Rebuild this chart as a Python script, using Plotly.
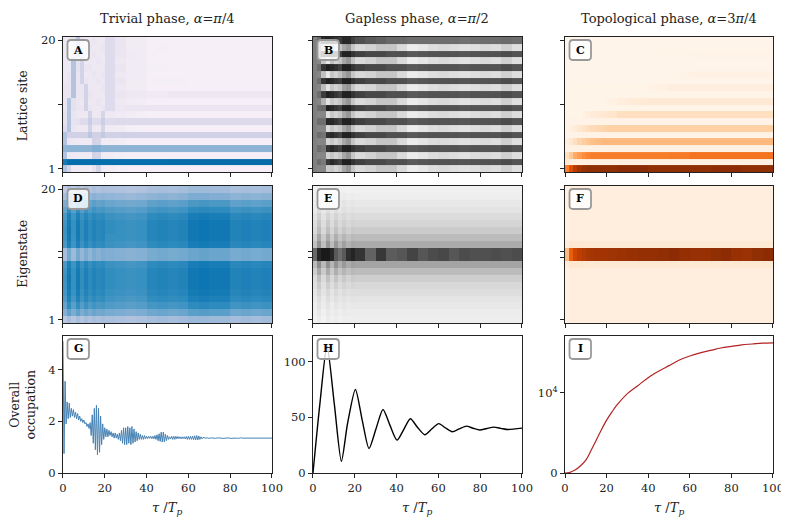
import plotly.graph_objects as go
from plotly.subplots import make_subplots
import plotly.colors as pc

# time bins (edges) used by every heatmap, in units of T_p
T_EDGES = [0, 2, 4, 6, 8, 10, 12, 14, 16, 18, 20, 25, 30, 35, 40, 45, 50, 55, 60,
           65, 70, 75, 80, 85, 90, 95, 100]
SITES = list(range(1, 21))

# heatmap levels, rows typed from site 20 (top) down to site 1 (bottom)
A_ROWS = [
    [0.5, 0.5, 0.9, 2.6, 0.8, 0.5, 0.5, 0.7, 0.5, 0.5, 1.2, 0.7, 0.3, 0.3, 0.0, 0.0, 0.0, 0.0, 0.0, 0.0, 0.0, 0.0, 0.0, 0.0, 0.0, 0.0],
    [0.5, 0.5, 0.9, 2.6, 0.9, 0.5, 0.7, 0.5, 0.5, 0.7, 1.2, 0.7, 0.3, 0.3, 0.0, 0.1, 0.0, 0.0, 0.0, 0.0, 0.0, 0.0, 0.0, 0.0, 0.0, 0.0],
    [0.5, 0.5, 1.2, 2.6, 0.9, 0.5, 0.5, 0.7, 0.5, 0.5, 1.2, 0.7, 0.4, 0.3, 0.1, 0.0, 0.0, 0.0, 0.0, 0.0, 0.0, 0.0, 0.0, 0.0, 0.0, 0.0],
    [0.5, 0.5, 2.6, 0.9, 1.7, 0.5, 0.5, 0.5, 0.7, 0.5, 1.2, 0.5, 0.3, 0.3, 0.0, 0.0, 0.0, 0.0, 0.0, 0.0, 0.0, 0.0, 0.0, 0.0, 0.0, 0.0],
    [0.5, 0.5, 2.6, 0.9, 1.7, 0.7, 0.7, 0.5, 0.5, 0.5, 1.2, 0.7, 0.3, 0.3, 0.1, 0.1, 0.0, 0.0, 0.0, 0.0, 0.0, 0.0, 0.0, 0.0, 0.0, 0.0],
    [0.5, 0.7, 2.6, 0.7, 1.7, 0.5, 0.5, 0.7, 0.5, 0.7, 1.2, 0.5, 0.4, 0.3, 0.0, 0.0, 0.0, 0.0, 0.0, 0.0, 0.0, 0.0, 0.0, 0.0, 0.0, 0.0],
    [0.5, 0.7, 2.6, 0.7, 1.7, 0.7, 0.5, 0.5, 0.7, 0.5, 1.2, 0.7, 0.3, 0.3, 0.1, 0.1, 0.1, 0.1, 0.0, 0.0, 0.0, 0.0, 0.0, 0.0, 0.0, 0.0],
    [0.7, 0.7, 2.6, 0.7, 0.7, 1.7, 0.5, 0.5, 0.5, 0.7, 1.2, 0.5, 0.3, 0.3, 0.0, 0.0, 0.0, 0.0, 0.0, 0.0, 0.0, 0.0, 0.0, 0.0, 0.0, 0.0],
    [0.7, 0.7, 2.6, 0.7, 0.7, 1.7, 0.7, 0.5, 0.5, 0.5, 1.2, 0.7, 0.5, 0.5, 0.4, 0.4, 0.5, 0.5, 0.5, 0.5, 0.5, 0.5, 0.5, 0.5, 0.5, 0.5],
    [0.7, 2.6, 0.9, 0.7, 0.5, 1.7, 0.5, 0.5, 0.7, 0.5, 1.2, 0.5, 0.3, 0.2, 0.0, 0.0, 0.0, 0.0, 0.0, 0.0, 0.0, 0.0, 0.0, 0.0, 0.0, 0.0],
    [0.7, 2.6, 0.9, 0.7, 0.7, 1.7, 0.7, 0.5, 0.5, 0.7, 1.2, 0.6, 0.7, 0.7, 0.7, 0.7, 0.7, 0.7, 0.7, 0.7, 0.7, 0.7, 0.7, 0.7, 0.7, 0.7],
    [0.9, 2.6, 0.7, 0.5, 0.5, 0.5, 1.7, 0.5, 0.5, 1.6, 0.5, 0.4, 0.2, 0.1, 0.0, 0.0, 0.0, 0.0, 0.0, 0.0, 0.0, 0.0, 0.0, 0.0, 0.0, 0.0],
    [0.9, 2.6, 0.8, 0.9, 1.2, 1.2, 2.0, 1.2, 1.2, 1.9, 1.2, 1.3, 1.3, 1.3, 1.3, 1.3, 1.3, 1.3, 1.3, 1.3, 1.3, 1.3, 1.3, 1.3, 1.3, 1.3],
    [1.2, 2.6, 0.7, 0.5, 0.5, 0.5, 1.7, 0.5, 0.4, 1.6, 0.4, 0.3, 0.1, 0.0, 0.0, 0.0, 0.0, 0.0, 0.0, 0.0, 0.0, 0.0, 0.0, 0.0, 0.0, 0.0],
    [2.6, 1.8, 1.8, 1.8, 1.8, 1.8, 2.4, 1.8, 1.8, 2.2, 1.8, 1.8, 1.8, 1.8, 1.8, 1.8, 1.8, 1.8, 1.8, 1.8, 1.8, 1.8, 1.8, 1.8, 1.8, 1.8],
    [2.6, 0.7, 0.5, 0.4, 0.4, 0.4, 0.4, 1.7, 1.6, 0.4, 0.3, 0.2, 0.0, 0.0, 0.0, 0.0, 0.0, 0.0, 0.0, 0.0, 0.0, 0.0, 0.0, 0.0, 0.0, 0.0],
    [3.5, 3.6, 3.6, 3.6, 3.6, 3.6, 3.6, 3.9, 3.9, 3.6, 3.6, 3.6, 3.6, 3.6, 3.6, 3.6, 3.6, 3.6, 3.6, 3.6, 3.6, 3.6, 3.6, 3.6, 3.6, 3.6],
    [2.6, 0.5, 0.4, 0.3, 0.3, 0.3, 0.3, 1.7, 1.6, 0.3, 0.2, 0.1, 0.0, 0.0, 0.0, 0.0, 0.0, 0.0, 0.0, 0.0, 0.0, 0.0, 0.0, 0.0, 0.0, 0.0],
    [6.2, 6.7, 6.7, 6.7, 6.7, 6.7, 6.7, 6.7, 6.7, 6.7, 6.7, 6.7, 6.7, 6.7, 6.7, 6.7, 6.8, 6.8, 6.8, 6.8, 6.8, 6.8, 6.8, 6.8, 6.8, 6.8],
    [2.6, 1.6, 0.4, 0.3, 0.3, 0.3, 0.3, 0.8, 1.7, 0.4, 0.2, 0.1, 0.0, 0.0, 0.0, 0.0, 0.0, 0.0, 0.0, 0.0, 0.0, 0.0, 0.0, 0.0, 0.0, 0.0],
]

B_ROWS = [
    [5.2, 6.0, 7.8, 8.0, 7.8, 7.5, 7.3, 7.8, 7.8, 7.2, 6.8, 6.5, 6.3, 6.0, 6.0, 5.8, 5.8, 5.8, 5.8, 5.8, 5.7, 5.8, 5.8, 5.8, 5.9, 5.8],
    [5.2, 5.0, 3.0, 1.2, 3.0, 2.4, 3.0, 4.0, 4.4, 3.0, 2.2, 2.5, 3.0, 3.0, 2.2, 1.3, 1.6, 2.0, 2.2, 2.0, 1.8, 2.0, 2.2, 2.0, 2.6, 2.0],
    [5.2, 5.8, 7.6, 8.0, 7.8, 7.5, 7.2, 8.0, 8.0, 7.5, 7.2, 7.0, 7.0, 6.8, 6.8, 6.5, 6.6, 6.7, 6.7, 6.7, 6.6, 6.7, 6.7, 6.7, 6.9, 6.7],
    [5.2, 5.0, 3.0, 1.5, 3.2, 2.5, 3.0, 4.0, 4.5, 3.2, 2.2, 2.5, 3.0, 3.0, 2.2, 1.3, 1.6, 2.0, 2.2, 2.0, 1.8, 2.0, 2.2, 2.0, 2.6, 2.0],
    [5.2, 5.8, 7.5, 8.0, 7.8, 7.6, 7.2, 8.0, 8.0, 7.5, 7.2, 7.0, 7.0, 6.8, 6.8, 6.5, 6.6, 6.7, 6.7, 6.7, 6.6, 6.7, 6.7, 6.7, 6.9, 6.7],
    [5.2, 5.0, 3.2, 1.5, 3.0, 2.5, 3.2, 4.0, 4.5, 3.0, 2.3, 2.5, 3.0, 3.0, 2.2, 1.3, 1.6, 2.0, 2.2, 2.0, 1.8, 2.0, 2.2, 2.0, 2.6, 2.0],
    [5.2, 5.8, 7.5, 8.0, 7.8, 7.5, 7.3, 8.0, 8.0, 7.5, 7.2, 7.0, 7.0, 6.8, 6.8, 6.5, 6.6, 6.7, 6.7, 6.7, 6.6, 6.7, 6.7, 6.7, 6.9, 6.7],
    [5.2, 5.0, 3.4, 1.8, 3.0, 2.5, 3.0, 4.2, 4.5, 3.0, 2.2, 2.4, 3.0, 3.0, 2.2, 1.3, 1.6, 2.0, 2.2, 2.0, 1.8, 2.0, 2.2, 2.0, 2.6, 2.0],
    [5.2, 5.8, 7.3, 8.0, 7.8, 7.5, 7.2, 8.0, 8.0, 7.5, 7.2, 7.0, 7.0, 6.8, 6.8, 6.5, 6.6, 6.7, 6.7, 6.7, 6.6, 6.7, 6.7, 6.7, 6.9, 6.7],
    [5.2, 5.0, 3.6, 1.8, 3.0, 2.6, 3.0, 4.0, 4.5, 3.0, 2.2, 2.5, 3.0, 3.0, 2.2, 1.3, 1.6, 2.0, 2.2, 2.0, 1.8, 2.0, 2.2, 2.0, 2.6, 2.0],
    [5.2, 5.8, 6.0, 8.0, 7.8, 7.5, 7.2, 8.0, 8.0, 7.5, 7.2, 7.0, 7.0, 6.8, 6.8, 6.5, 6.6, 6.7, 6.7, 6.7, 6.6, 6.7, 6.7, 6.7, 6.9, 6.7],
    [5.2, 5.0, 5.0, 2.0, 3.0, 2.5, 3.0, 4.0, 4.5, 3.0, 2.2, 2.5, 3.0, 3.0, 2.2, 1.3, 1.6, 2.0, 2.2, 2.0, 1.8, 2.0, 2.2, 2.0, 2.6, 2.0],
    [5.2, 5.8, 5.8, 7.8, 7.8, 7.5, 7.2, 8.0, 8.0, 7.5, 7.2, 7.0, 7.0, 6.8, 6.8, 6.5, 6.6, 6.7, 6.7, 6.7, 6.6, 6.7, 6.7, 6.7, 6.9, 6.7],
    [5.2, 5.0, 5.0, 2.2, 3.0, 2.5, 3.0, 4.0, 4.5, 3.0, 2.2, 2.5, 3.0, 3.0, 2.2, 1.3, 1.6, 2.0, 2.2, 2.0, 1.8, 2.0, 2.2, 2.0, 2.6, 2.0],
    [5.2, 5.8, 5.6, 7.6, 7.8, 7.5, 7.2, 8.0, 8.0, 7.5, 7.2, 7.0, 7.0, 6.8, 6.8, 6.5, 6.6, 6.7, 6.7, 6.7, 6.6, 6.7, 6.7, 6.7, 6.9, 6.7],
    [5.2, 5.0, 5.0, 2.4, 3.0, 2.5, 3.0, 4.0, 4.5, 3.0, 2.2, 2.5, 3.0, 3.0, 2.2, 1.3, 1.6, 2.0, 2.2, 2.0, 1.8, 2.0, 2.2, 2.0, 2.6, 2.0],
    [5.2, 5.8, 5.5, 7.5, 7.8, 7.5, 7.2, 8.0, 8.0, 7.5, 7.2, 7.0, 7.0, 6.8, 6.8, 6.5, 6.6, 6.7, 6.7, 6.7, 6.6, 6.7, 6.7, 6.7, 6.9, 6.7],
    [5.2, 5.0, 5.0, 2.6, 3.0, 2.5, 3.0, 4.0, 4.5, 3.0, 2.2, 2.5, 3.0, 3.0, 2.2, 1.3, 1.6, 2.0, 2.2, 2.0, 1.8, 2.0, 2.2, 2.0, 2.6, 2.0],
    [5.2, 5.8, 5.4, 7.4, 7.8, 7.5, 7.2, 8.0, 8.0, 7.5, 7.2, 7.0, 7.0, 6.8, 6.8, 6.5, 6.6, 6.7, 6.7, 6.7, 6.6, 6.7, 6.7, 6.7, 6.9, 6.7],
    [5.2, 5.0, 5.0, 2.8, 3.0, 2.5, 3.0, 4.0, 4.5, 3.0, 2.2, 2.5, 3.0, 3.0, 2.2, 1.3, 1.6, 2.0, 2.2, 2.0, 1.8, 2.0, 2.2, 2.0, 2.6, 2.0],
]

C_ROWS = [
    [0.05] * 26,
    [0.05] * 26,
    [0.05, 0.05, 0.05, 0.05, 0.05, 0.05, 0.05, 0.05, 0.05, 0.05, 0.05, 0.05, 0.05, 0.05, 0.1, 0.1, 0.1, 0.1, 0.15, 0.15, 0.15, 0.15, 0.15, 0.15, 0.15, 0.15],
    [0.05] * 26,
    [0.05] * 26,
    [0.05, 0.05, 0.05, 0.05, 0.05, 0.05, 0.05, 0.05, 0.05, 0.05, 0.05, 0.05, 0.05, 0.05, 0.05, 0.05, 0.1, 0.2, 0.3, 0.3, 0.3, 0.3, 0.3, 0.3, 0.3, 0.3],
    [0.05] * 26,
    [0.1, 0.1, 0.1, 0.1, 0.1, 0.1, 0.1, 0.1, 0.1, 0.1, 0.1, 0.1, 0.1, 0.1, 0.3, 0.4, 0.5, 0.5, 0.5, 0.5, 0.5, 0.5, 0.5, 0.5, 0.5, 0.5],
    [0.1] * 26,
    [0.1, 0.1, 0.1, 0.1, 0.1, 0.1, 0.1, 0.1, 0.1, 0.1, 0.3, 0.5, 0.7, 0.8, 0.9, 0.9, 0.9, 0.9, 0.9, 0.9, 0.9, 0.9, 0.9, 0.9, 0.9, 0.9],
    [0.1] * 26,
    [0.1, 0.1, 0.1, 0.1, 0.3, 0.5, 0.7, 0.8, 0.9, 1.0, 1.2, 1.5, 1.5, 1.5, 1.5, 1.5, 1.5, 1.5, 1.5, 1.5, 1.5, 1.5, 1.5, 1.5, 1.5, 1.5],
    [0.15] * 26,
    [0.2, 0.4, 0.7, 1.0, 1.3, 1.5, 1.7, 1.8, 1.9, 2.0, 2.2, 2.2, 2.2, 2.2, 2.2, 2.2, 2.2, 2.2, 2.2, 2.2, 2.2, 2.2, 2.2, 2.2, 2.2, 2.2],
    [0.2] * 26,
    [0.5, 1.0, 1.5, 2.0, 2.3, 2.5, 2.7, 2.8, 2.9, 3.0, 3.0, 3.0, 3.0, 3.0, 3.0, 3.0, 3.0, 3.0, 3.0, 3.0, 3.0, 3.0, 3.0, 3.0, 3.0, 3.0],
    [0.3] * 26,
    [1.5, 2.5, 3.5, 4.0, 4.5, 4.8, 5.0, 5.0, 5.0, 5.0, 5.0, 5.0, 5.0, 5.0, 5.0, 5.0, 5.1, 5.1, 5.3, 5.3, 5.3, 5.3, 5.3, 5.3, 5.3, 5.3],
    [1.0, 0.4, 0.4, 0.4, 0.4, 0.4, 0.4, 0.4, 0.4, 0.4, 0.4, 0.4, 0.4, 0.4, 0.4, 0.4, 0.4, 0.4, 0.4, 0.4, 0.4, 0.4, 0.4, 0.4, 0.4, 0.4],
    [5.0, 6.5, 7.5, 8.0, 8.3, 8.5, 8.5, 8.5, 8.5, 8.5, 8.5, 8.7, 8.7, 8.7, 8.5, 8.5, 8.5, 8.5, 8.5, 8.5, 8.6, 8.6, 8.6, 8.5, 8.5, 8.5],
]

D_ROWS = [
    [2.2, 2.8, 2.4, 2.9, 2.5, 2.9, 2.6, 2.9, 2.7, 2.9, 2.8, 2.7, 2.6, 2.7, 2.9, 3.0, 2.9, 3.0, 3.2, 3.2, 3.1, 3.1, 2.9, 3.0, 2.9, 3.0],
    [3.0, 3.8, 3.2, 3.8, 3.3, 3.7, 3.4, 3.7, 3.5, 3.6, 3.5, 3.4, 3.3, 3.4, 3.6, 3.7, 3.6, 3.7, 4.0, 4.0, 3.9, 3.9, 3.6, 3.7, 3.6, 3.7],
    [4.0, 4.9, 4.2, 4.9, 4.3, 4.7, 4.4, 4.7, 4.5, 4.6, 4.4, 4.3, 4.2, 4.3, 4.6, 4.7, 4.6, 4.7, 5.0, 5.1, 5.0, 5.0, 4.6, 4.7, 4.6, 4.7],
    [4.5, 5.5, 4.7, 5.5, 4.8, 5.3, 4.9, 5.2, 5.0, 5.1, 4.9, 4.8, 4.7, 4.8, 5.1, 5.2, 5.1, 5.2, 5.6, 5.7, 5.6, 5.6, 5.2, 5.3, 5.2, 5.3],
    [5.0, 6.0, 5.2, 6.0, 5.3, 5.8, 5.4, 5.7, 5.5, 5.6, 5.3, 5.2, 5.1, 5.2, 5.6, 5.7, 5.6, 5.7, 6.1, 6.2, 6.1, 6.1, 5.7, 5.8, 5.7, 5.8],
    [5.2, 6.2, 5.4, 6.2, 5.5, 6.0, 5.6, 5.9, 5.7, 5.8, 5.5, 5.4, 5.3, 5.4, 5.8, 5.9, 5.8, 5.9, 6.3, 6.4, 6.3, 6.3, 5.9, 6.0, 5.9, 6.0],
    [5.3, 6.3, 5.4, 6.2, 5.5, 6.0, 5.6, 5.9, 5.7, 5.8, 5.5, 5.4, 5.3, 5.4, 5.8, 5.9, 5.8, 5.9, 6.3, 6.4, 6.3, 6.3, 5.9, 6.0, 5.9, 6.0],
    [5.2, 6.2, 5.3, 6.2, 5.5, 6.0, 5.6, 5.9, 5.7, 5.8, 5.4, 5.4, 5.3, 5.4, 5.8, 5.9, 5.8, 5.9, 6.3, 6.4, 6.3, 6.3, 5.9, 6.0, 5.9, 6.0],
    [5.0, 6.0, 5.2, 6.0, 5.3, 5.8, 5.4, 5.7, 5.5, 5.6, 5.3, 5.2, 5.1, 5.2, 5.6, 5.7, 5.6, 5.7, 6.1, 6.2, 6.1, 6.1, 5.7, 5.8, 5.7, 5.8],
    [3.0, 4.2, 3.2, 4.2, 3.4, 4.0, 3.5, 4.0, 3.7, 4.0, 3.9, 3.8, 3.7, 3.8, 4.1, 4.2, 4.1, 4.2, 4.4, 4.5, 4.4, 4.4, 4.1, 4.2, 4.1, 4.2],
    [3.0, 4.2, 3.2, 4.2, 3.4, 4.0, 3.5, 4.0, 3.7, 4.0, 3.9, 3.8, 3.7, 3.8, 4.1, 4.2, 4.1, 4.2, 4.4, 4.5, 4.4, 4.4, 4.1, 4.2, 4.1, 4.2],
    [5.0, 6.0, 5.2, 6.0, 5.3, 5.8, 5.4, 5.7, 5.5, 5.6, 5.3, 5.2, 5.1, 5.2, 5.6, 5.7, 5.6, 5.7, 6.1, 6.2, 6.1, 6.1, 5.7, 5.8, 5.7, 5.8],
    [5.2, 6.2, 5.4, 6.2, 5.5, 6.0, 5.6, 5.9, 5.7, 5.8, 5.5, 5.4, 5.3, 5.4, 5.8, 5.9, 5.8, 5.9, 6.3, 6.4, 6.3, 6.3, 5.9, 6.0, 5.9, 6.0],
    [5.3, 6.3, 5.4, 6.2, 5.5, 6.0, 5.6, 5.9, 5.7, 5.8, 5.5, 5.4, 5.3, 5.4, 5.8, 5.9, 5.8, 5.9, 6.3, 6.4, 6.3, 6.3, 5.9, 6.0, 5.9, 6.0],
    [5.2, 6.2, 5.4, 6.2, 5.5, 6.0, 5.6, 5.9, 5.7, 5.8, 5.5, 5.4, 5.3, 5.4, 5.8, 5.9, 5.8, 5.9, 6.3, 6.4, 6.3, 6.3, 5.9, 6.0, 5.9, 6.0],
    [5.1, 6.1, 5.3, 6.1, 5.4, 5.9, 5.5, 5.8, 5.6, 5.7, 5.4, 5.3, 5.2, 5.3, 5.7, 5.8, 5.7, 5.8, 6.2, 6.3, 6.2, 6.2, 5.8, 5.9, 5.8, 5.9],
    [4.9, 5.9, 5.1, 5.9, 5.2, 5.7, 5.3, 5.6, 5.4, 5.5, 5.2, 5.1, 5.0, 5.1, 5.5, 5.6, 5.5, 5.6, 6.0, 6.1, 6.0, 6.0, 5.6, 5.7, 5.6, 5.7],
    [4.5, 5.5, 4.7, 5.5, 4.8, 5.3, 4.9, 5.2, 5.0, 5.1, 4.9, 4.8, 4.7, 4.8, 5.1, 5.2, 5.1, 5.2, 5.6, 5.7, 5.6, 5.6, 5.2, 5.3, 5.2, 5.3],
    [3.8, 4.6, 4.0, 4.6, 4.0, 4.4, 4.1, 4.4, 4.2, 4.3, 4.1, 4.0, 3.9, 4.0, 4.3, 4.4, 4.3, 4.4, 4.7, 4.8, 4.7, 4.7, 4.3, 4.4, 4.3, 4.4],
    [2.4, 3.0, 2.5, 3.0, 2.6, 3.0, 2.7, 3.0, 2.8, 3.0, 2.9, 2.8, 2.7, 2.8, 3.0, 3.1, 3.0, 3.1, 3.3, 3.3, 3.2, 3.2, 3.0, 3.1, 3.0, 3.1],
]

E_ROWS = [
    [1.0, 1.2, 1.0, 1.2, 1.0, 1.1, 1.0, 1.1, 1.0, 1.1, 1.1, 1.1, 1.1, 1.1, 1.1, 1.1, 1.1, 1.1, 1.1, 1.1, 1.1, 1.1, 1.1, 1.1, 1.1, 1.1],
    [1.1, 1.4, 1.1, 1.4, 1.1, 1.3, 1.2, 1.3, 1.2, 1.3, 1.2, 1.2, 1.2, 1.2, 1.2, 1.2, 1.2, 1.2, 1.2, 1.2, 1.2, 1.2, 1.2, 1.2, 1.2, 1.2],
    [1.3, 1.8, 1.3, 1.8, 1.4, 1.7, 1.4, 1.7, 1.5, 1.6, 1.5, 1.5, 1.5, 1.5, 1.5, 1.5, 1.5, 1.5, 1.5, 1.5, 1.5, 1.5, 1.5, 1.5, 1.5, 1.5],
    [1.4, 2.1, 1.5, 2.0, 1.5, 1.9, 1.6, 1.9, 1.7, 1.8, 1.7, 1.7, 1.7, 1.7, 1.7, 1.7, 1.7, 1.7, 1.7, 1.7, 1.7, 1.7, 1.7, 1.7, 1.7, 1.7],
    [1.7, 2.6, 1.8, 2.5, 1.9, 2.4, 2.0, 2.3, 2.0, 2.2, 2.1, 2.1, 2.1, 2.1, 2.1, 2.1, 2.1, 2.1, 2.1, 2.1, 2.1, 2.1, 2.1, 2.1, 2.1, 2.1],
    [2.0, 3.0, 2.0, 2.9, 2.1, 2.8, 2.2, 2.6, 2.3, 2.5, 2.4, 2.4, 2.4, 2.4, 2.4, 2.4, 2.4, 2.4, 2.4, 2.4, 2.4, 2.4, 2.4, 2.4, 2.4, 2.4],
    [2.2, 3.4, 2.3, 3.3, 2.4, 3.2, 2.5, 3.0, 2.6, 2.9, 2.8, 2.8, 2.8, 2.8, 2.8, 2.8, 2.8, 2.8, 2.8, 2.8, 2.8, 2.8, 2.8, 2.8, 2.8, 2.8],
    [2.7, 4.0, 2.8, 3.9, 2.9, 3.8, 3.1, 3.6, 3.2, 3.5, 3.4, 3.4, 3.4, 3.4, 3.4, 3.4, 3.4, 3.4, 3.4, 3.4, 3.4, 3.4, 3.4, 3.4, 3.4, 3.4],
    [3.2, 4.6, 3.3, 4.5, 3.4, 4.4, 3.6, 4.2, 3.7, 4.0, 3.9, 3.9, 3.9, 3.9, 3.9, 3.9, 3.9, 3.9, 3.9, 3.9, 3.9, 3.9, 3.9, 3.9, 3.9, 3.9],
    [6.0, 7.8, 8.2, 8.2, 7.8, 6.5, 5.8, 6.5, 7.6, 7.9, 7.5, 6.2, 7.4, 6.4, 6.6, 7.1, 6.6, 6.9, 7.0, 6.6, 6.9, 6.8, 6.8, 6.9, 6.8, 6.9],
    [6.0, 7.8, 8.2, 8.2, 7.8, 6.5, 5.8, 6.5, 7.6, 7.9, 7.5, 6.2, 7.4, 6.4, 6.6, 7.1, 6.6, 6.9, 7.0, 6.6, 6.9, 6.8, 6.8, 6.9, 6.8, 6.9],
    [3.4, 4.8, 3.5, 4.7, 3.6, 4.6, 3.8, 4.4, 3.9, 4.2, 4.1, 4.1, 4.1, 4.1, 4.1, 4.1, 4.1, 4.1, 4.1, 4.1, 4.1, 4.1, 4.1, 4.1, 4.1, 4.1],
    [2.7, 4.0, 2.8, 3.9, 2.9, 3.8, 3.1, 3.6, 3.2, 3.5, 3.4, 3.4, 3.4, 3.4, 3.4, 3.4, 3.4, 3.4, 3.4, 3.4, 3.4, 3.4, 3.4, 3.4, 3.4, 3.4],
    [2.1, 3.3, 2.2, 3.2, 2.3, 3.1, 2.4, 2.9, 2.5, 2.8, 2.7, 2.7, 2.7, 2.7, 2.7, 2.7, 2.7, 2.7, 2.7, 2.7, 2.7, 2.7, 2.7, 2.7, 2.7, 2.7],
    [1.9, 2.8, 1.9, 2.7, 2.0, 2.6, 2.1, 2.5, 2.2, 2.4, 2.3, 2.3, 2.3, 2.3, 2.3, 2.3, 2.3, 2.3, 2.3, 2.3, 2.3, 2.3, 2.3, 2.3, 2.3, 2.3],
    [1.6, 2.4, 1.7, 2.3, 1.7, 2.2, 1.8, 2.1, 1.9, 2.0, 2.0, 2.0, 2.0, 2.0, 2.0, 2.0, 2.0, 2.0, 2.0, 2.0, 2.0, 2.0, 2.0, 2.0, 2.0, 2.0],
    [1.4, 2.0, 1.4, 2.0, 1.5, 1.9, 1.6, 1.8, 1.6, 1.8, 1.7, 1.7, 1.7, 1.7, 1.7, 1.7, 1.7, 1.7, 1.7, 1.7, 1.7, 1.7, 1.7, 1.7, 1.7, 1.7],
    [1.2, 1.8, 1.3, 1.7, 1.3, 1.6, 1.4, 1.6, 1.4, 1.5, 1.5, 1.5, 1.5, 1.5, 1.5, 1.5, 1.5, 1.5, 1.5, 1.5, 1.5, 1.5, 1.5, 1.5, 1.5, 1.5],
    [1.1, 1.5, 1.1, 1.5, 1.2, 1.4, 1.2, 1.4, 1.3, 1.3, 1.3, 1.3, 1.3, 1.3, 1.3, 1.3, 1.3, 1.3, 1.3, 1.3, 1.3, 1.3, 1.3, 1.3, 1.3, 1.3],
    [1.0, 1.3, 1.0, 1.3, 1.1, 1.3, 1.1, 1.2, 1.2, 1.2, 1.2, 1.2, 1.2, 1.2, 1.2, 1.2, 1.2, 1.2, 1.2, 1.2, 1.2, 1.2, 1.2, 1.2, 1.2, 1.2],
]

F_ROWS = [
    [0.4] + [0.5] * 25,
    [0.4] + [0.5] * 25,
    [0.4] + [0.5] * 25,
    [0.4] + [0.5] * 25,
    [0.4] + [0.5] * 25,
    [0.4] + [0.5] * 25,
    [0.4] + [0.5] * 25,
    [0.4] + [0.5] * 25,
    [0.7, 1.1, 1.0, 1.0, 0.9, 0.9, 0.9, 0.9, 0.9, 0.9, 0.9, 0.9, 0.9, 0.9, 0.9, 0.9, 0.9, 0.9, 0.9, 0.9, 0.9, 0.9, 0.9, 0.9, 0.9, 0.9],
    [3.0, 6.0, 7.0, 7.4, 7.6, 7.8, 7.9, 8.0, 8.0, 8.0, 8.1, 8.2, 8.3, 8.4, 8.4, 8.5, 8.6, 8.4, 8.3, 8.3, 8.5, 8.6, 8.3, 8.2, 8.5, 8.6],
    [3.0, 6.0, 7.0, 7.4, 7.6, 7.8, 7.9, 8.0, 8.0, 8.0, 8.1, 8.2, 8.3, 8.4, 8.4, 8.5, 8.6, 8.4, 8.3, 8.3, 8.5, 8.6, 8.3, 8.2, 8.5, 8.6],
    [0.7, 1.1, 1.0, 1.0, 0.9, 0.9, 0.9, 0.9, 0.9, 0.9, 0.9, 0.9, 0.9, 0.9, 0.9, 0.9, 0.9, 0.9, 0.9, 0.9, 0.9, 0.9, 0.9, 0.9, 0.9, 0.9],
    [0.4] + [0.5] * 25,
    [0.4] + [0.5] * 25,
    [0.4] + [0.5] * 25,
    [0.4] + [0.5] * 25,
    [0.4] + [0.5] * 25,
    [0.4] + [0.5] * 25,
    [0.4] + [0.5] * 25,
    [0.4] + [0.5] * 25,
]

# overall occupation, trivial phase (sampled every 0.5 T_p up to 67, then every 1 T_p)
G_T = [i * 0.5 for i in range(135)] + list(range(68, 101))
G_V = [
    5.1, 0.75, 3.55, 1.9, 2.75, 2.1, 2.7, 2.15, 2.5, 2.2,
    2.45, 2.15, 2.35, 2.1, 2.3, 2.05, 2.2, 2.0, 2.1, 1.95,
    2.05, 1.9, 1.95, 1.8, 1.9, 1.72, 1.95, 1.45, 2.25, 1.15,
    2.5, 0.9, 2.62, 0.7, 2.5, 0.8, 2.2, 1.1, 1.9, 1.3,
    1.75, 1.4, 1.7, 1.4, 1.65, 1.45, 1.6, 1.4, 1.55, 1.35,
    1.55, 1.35, 1.5, 1.3, 1.55, 1.25, 1.65, 1.15, 1.75, 1.1,
    1.75, 1.1, 1.8, 1.15, 1.75, 1.1, 1.8, 1.15, 1.7, 1.2,
    1.6, 1.25, 1.55, 1.3, 1.5, 1.3, 1.45, 1.3, 1.45, 1.32,
    1.42, 1.33, 1.42, 1.34, 1.42, 1.33, 1.42, 1.32, 1.45, 1.3,
    1.48, 1.25, 1.52, 1.22, 1.58, 1.2, 1.58, 1.2, 1.5, 1.25,
    1.45, 1.3, 1.4, 1.32, 1.42, 1.3, 1.42, 1.3, 1.42, 1.32,
    1.41, 1.33, 1.4, 1.32, 1.4, 1.33, 1.4, 1.32, 1.41, 1.3,
    1.42, 1.3, 1.42, 1.3, 1.43, 1.29, 1.44, 1.28, 1.45, 1.28,
    1.43, 1.3, 1.4, 1.32, 1.38,
    1.35, 1.36, 1.34, 1.36, 1.35, 1.34, 1.36, 1.35, 1.36, 1.34,
    1.35, 1.36, 1.34, 1.35, 1.36, 1.35, 1.34, 1.36, 1.35, 1.35,
    1.36, 1.34, 1.35, 1.36, 1.35, 1.34, 1.35, 1.36, 1.35, 1.34,
    1.35, 1.36, 1.35,
]

# overall occupation, gapless phase
H_T = [0, 3.3, 6.7, 10.2, 13.6, 16.5, 20.3, 23.5, 26.8, 30.2, 33.5, 36.8, 40.2, 43.4,
       46.6, 50.0, 53.5, 56.8, 60.2, 63.4, 66.6, 70.0, 73.4, 76.6, 79.8, 83.2, 86.5,
       89.9, 93.3, 96.7, 100]
H_V = [0, 62, 114, 62, 10.5, 44, 75, 48, 22, 40, 57, 43, 29.5, 39, 48.7, 41, 34.4,
       39.5, 44.3, 40.5, 37.1, 39.7, 42.1, 40.2, 38.6, 40, 41.2, 40.1, 39, 39.6, 40.3]

# overall occupation, topological phase
I_T = [0, 2, 5, 7.5, 10, 12.5, 15, 17.5, 20, 22.5, 25, 30, 35, 40, 45, 50, 55, 60,
       65, 70, 75, 80, 85, 90, 95, 100]
I_V = [0, 50, 400, 900, 1600, 2800, 4100, 5400, 6600, 7600, 8500, 9900, 10900, 11900,
       12700, 13400, 14100, 14600, 15000, 15300, 15600, 15800, 16000, 16100, 16200, 16250]

TITLES = ["Trivial phase, <i>α</i>=<i>π</i>/4",
          "Gapless phase, <i>α</i>=<i>π</i>/2",
          "Topological phase, <i>α</i>=3<i>π</i>/4"]
LETTERS = ["A", "B", "C", "D", "E", "F", "G", "H", "I"]

FONT = "DejaVu Serif"
INK = "#222222"

# the page puts the figure 8 px in from the top-left corner
W, H = 781, 510
XD = [[0.0704, 0.338], [0.3905, 0.6581], [0.7132, 0.9795]]
YD = [[0.6784, 0.9431], [0.3824, 0.651], [0.0882, 0.3569]]

fig = make_subplots(rows=3, cols=3)

# heatmaps: (rows, colorscale, zmin, zmax)
heat = [
    (A_ROWS, pc.sequential.PuBu, -0.6, 9), (B_ROWS, pc.sequential.Greys, 0, 9),
    (C_ROWS, pc.sequential.Oranges, 0, 9), (D_ROWS, pc.sequential.PuBu, -0.6, 9),
    (E_ROWS, pc.sequential.Greys, 0, 9), (F_ROWS, pc.sequential.Oranges, 0, 9),
]
for k, (rows, cs, lo, hi) in enumerate(heat):
    r, c = k // 3 + 1, k % 3 + 1
    fig.add_trace(go.Heatmap(x=T_EDGES, y=SITES, z=rows[::-1], colorscale=cs,
                             zmin=lo, zmax=hi, showscale=False, hoverinfo="skip"),
                  row=r, col=c)

fig.add_trace(go.Scatter(x=G_T, y=G_V, mode="lines",
                         line=dict(color="#4682b4", width=1)), row=3, col=1)
fig.add_trace(go.Scatter(x=H_T, y=H_V, mode="lines",
                         line=dict(color="black", width=1.4, shape="spline", smoothing=0.7)),
              row=3, col=2)
fig.add_trace(go.Scatter(x=I_T, y=I_V, mode="lines",
                         line=dict(color="#b22222", width=1.2, shape="spline")),
              row=3, col=3)

axis_style = dict(showline=True, linecolor=INK, linewidth=1.2, mirror=True,
                  ticks="outside", ticklen=4, tickwidth=1, tickcolor=INK,
                  showgrid=False, zeroline=False, ticklabeloverflow="allow",
                  tickfont=dict(family=FONT, size=11.5, color=INK))
minor_tick = dict(ticks="outside", ticklen=4, tickwidth=1, tickcolor=INK, showgrid=False)

for r in range(3):
    for c in range(3):
        fig.update_xaxes(domain=XD[c], range=[0, 100], tickvals=[0, 20, 40, 60, 80, 100],
                         showticklabels=(r == 2), row=r + 1, col=c + 1, **axis_style)
        fig.update_yaxes(domain=YD[r], row=r + 1, col=c + 1, **axis_style)

for c in range(3):
    fig.update_yaxes(range=[0.5, 20.5], tickvals=[1, 20], showticklabels=(c == 0),
                     minor=dict(tickvals=[10.5], **minor_tick), row=1, col=c + 1)
    fig.update_yaxes(range=[0.5, 20.5], tickvals=[1, 20], showticklabels=(c == 0),
                     minor=dict(tickvals=[10, 11], **minor_tick), row=2, col=c + 1)

fig.update_yaxes(range=[0, 5.3], tickvals=[0, 2, 4], row=3, col=1)
fig.update_yaxes(range=[0, 123], tickvals=[0, 50, 100], row=3, col=2)
fig.update_yaxes(range=[0, 17100], tickvals=[0, 10000], ticktext=["0", "10<sup>4</sup>"],
                 row=3, col=3)

# panel letters in small rounded boxes (box size given in pixels, corner offset 4/3 px)
BOX_L, BOX_R, BOX_T, BOX_B, RAD = 4.5, 26.0, 3.0, 23.0, 3.5
shapes, ann = [], []
for k, letter in enumerate(LETTERS):
    r, c = k // 3, k % 3
    ax = "" if k == 0 else str(k + 1)
    wpx = W * (XD[c][1] - XD[c][0])
    hpx = H * (YD[r][1] - YD[r][0])

    def px(v):
        return v / wpx

    def py(v):
        return 1 - v / hpx

    path = (f"M {px(BOX_L + RAD)},{py(BOX_T)} L {px(BOX_R - RAD)},{py(BOX_T)} "
            f"Q {px(BOX_R)},{py(BOX_T)} {px(BOX_R)},{py(BOX_T + RAD)} "
            f"L {px(BOX_R)},{py(BOX_B - RAD)} "
            f"Q {px(BOX_R)},{py(BOX_B)} {px(BOX_R - RAD)},{py(BOX_B)} "
            f"L {px(BOX_L + RAD)},{py(BOX_B)} "
            f"Q {px(BOX_L)},{py(BOX_B)} {px(BOX_L)},{py(BOX_B - RAD)} "
            f"L {px(BOX_L)},{py(BOX_T + RAD)} "
            f"Q {px(BOX_L)},{py(BOX_T)} {px(BOX_L + RAD)},{py(BOX_T)} Z")
    shapes.append(dict(type="path", path=path, xref=f"x{ax} domain", yref=f"y{ax} domain",
                       fillcolor="rgba(255,255,255,0.8)",
                       line=dict(color="#999999", width=1.8), layer="above"))
    ann.append(dict(xref=f"x{ax} domain", yref=f"y{ax} domain",
                    x=px((BOX_L + BOX_R) / 2), y=py((BOX_T + BOX_B) / 2),
                    xanchor="center", yanchor="middle", showarrow=False,
                    text=f"<b>{letter}</b>", font=dict(family=FONT, size=11, color="black")))

for c, t in enumerate(TITLES):
    mid = (XD[c][0] + XD[c][1]) / 2
    ann.append(dict(xref="paper", yref="paper", x=mid, y=0.980, xanchor="center",
                    yanchor="middle", text=t, showarrow=False,
                    font=dict(family=FONT, size=13, color=INK)))
    ann.append(dict(xref="paper", yref="paper", x=mid, y=0.019, xanchor="center",
                    yanchor="middle", text="<i>τ</i> /<i>T</i><sub><i>p</i></sub>",
                    showarrow=False, font=dict(family=FONT, size=13, color=INK)))

ylabels = [("Lattice site", 0.809), ("Eigenstate", 0.518), ("Overall<br>occupation", 0.222)]
for text, yy in ylabels:
    ann.append(dict(xref="paper", yref="paper", x=0.019, y=yy, xanchor="center",
                    yanchor="middle", text=text, showarrow=False, textangle=-90,
                    font=dict(family=FONT, size=12.5, color=INK)))

fig.update_layout(
    width=W, height=H, margin=dict(l=0, r=0, t=0, b=0),
    template="none", paper_bgcolor="white", plot_bgcolor="white",
    showlegend=False, annotations=ann, shapes=shapes,
    font=dict(family=FONT, size=11, color=INK),
)

fig.write_html("out.html")
